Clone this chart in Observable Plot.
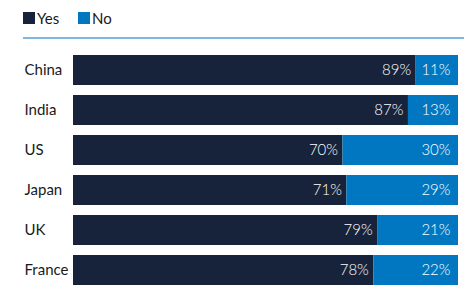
<!DOCTYPE html>
<html>
<head>
<meta charset="utf-8">
<script src="https://cdn.jsdelivr.net/npm/d3@7"></script>
<script src="https://cdn.jsdelivr.net/npm/@observablehq/plot@0.6"></script>
<style>
  html, body { margin: 0; padding: 0; background: #fff; overflow: hidden; }
  body { width: 464px; font-family: Lato, "Open Sans", sans-serif; font-weight: 400; }
  #legend { margin-left: 23px; height: 39px; border-bottom: 2px solid #7db6e0; box-sizing: border-box; position: relative; font-size: 15px; color: #1a1a1a; }
  .item { position: absolute; top: 9px; display: flex; align-items: center; }
  .sw { width: 12px; height: 12px; margin-right: 2px; display: inline-block; }
  #chart svg { display: block; }
</style>
</head>
<body>
<div id="legend"></div>
<div id="chart"></div>
<script>
const countries = ["China", "India", "US", "Japan", "UK", "France"];
const yes = [89, 87, 70, 71, 79, 78];
const no = [11, 13, 30, 29, 21, 22];
const series = ["Yes", "No"];
const colors = ["#17233b", "#0077c0"];

const legend = document.getElementById("legend");
const lefts = [0, 55];
series.forEach((s, i) => {
  const el = document.createElement("div");
  el.className = "item";
  el.style.left = lefts[i] + "px";
  el.innerHTML = `<span class="sw" style="background:${colors[i]}"></span><span>${s}</span>`;
  legend.appendChild(el);
});

const data = [];
countries.forEach((c, i) => {
  data.push({country: c, answer: "Yes", value: yes[i], start: 0, end: yes[i]});
  data.push({country: c, answer: "No", value: no[i], start: yes[i], end: yes[i] + no[i]});
});

const chart = Plot.plot({
  width: 464,
  height: 251,
  marginLeft: 73,
  marginRight: 6,
  marginTop: 14,
  marginBottom: 2,
  x: {domain: [0, 100], axis: null},
  y: {domain: countries, paddingInner: 0.24, paddingOuter: 0, label: null},
  color: {domain: series, range: colors},
  style: {fontFamily: "Lato, 'Open Sans', sans-serif", fontSize: "15px", color: "#1a1a1a"},
  marks: [
    Plot.barX(data, {x1: "start", x2: "end", y: "country", fill: "answer"}),
    Plot.text(data.filter(d => d.answer === "Yes"), {x: "end", y: "country", text: d => d.value + "%", textAnchor: "end", dx: -5, fill: "white", fontSize: 15, fontWeight: 300}),
    Plot.text(data.filter(d => d.answer === "No"), {x: "end", y: "country", text: d => d.value + "%", textAnchor: "end", dx: -8, fill: "white", fontSize: 15, fontWeight: 300}),
    Plot.axisY({tickSize: 0, tickPadding: 0, textAnchor: "start", dx: -49, fontSize: 15, fontWeight: 400, fill: "#1a1a1a", label: null})
  ]
});
document.getElementById("chart").appendChild(chart);
</script>
</body>
</html>
